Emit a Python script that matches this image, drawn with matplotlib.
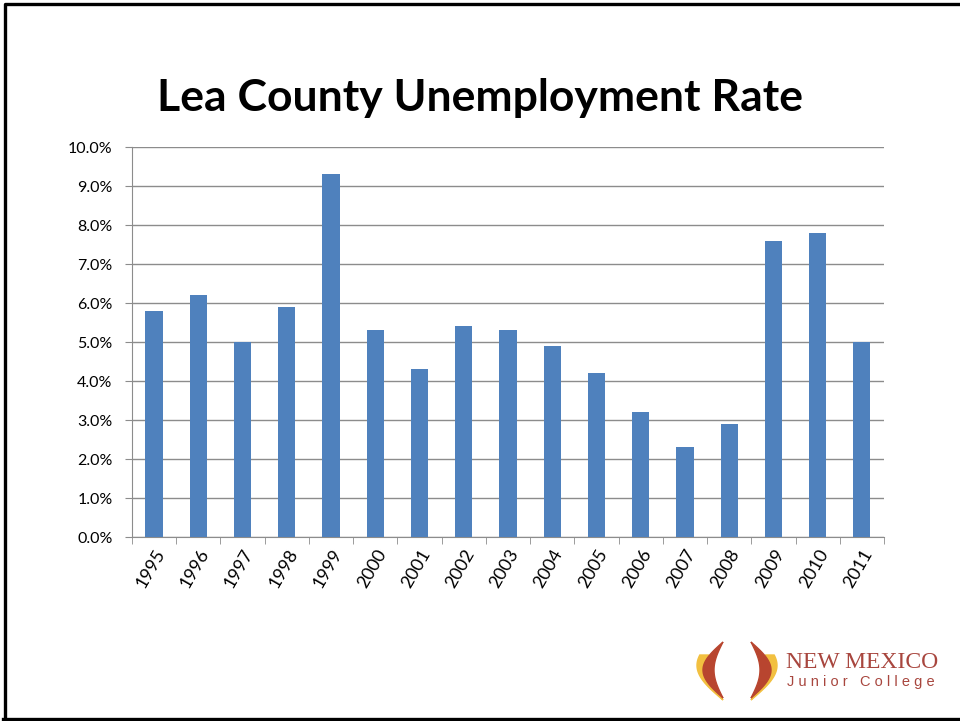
import numpy as np
import matplotlib.pyplot as plt
from matplotlib.lines import Line2D
from matplotlib.patches import Polygon

years = ["1995", "1996", "1997", "1998", "1999", "2000", "2001", "2002", "2003",
         "2004", "2005", "2006", "2007", "2008", "2009", "2010", "2011"]
rates = [5.8, 6.2, 5.0, 5.9, 9.3, 5.3, 4.3, 5.4, 5.3,
         4.9, 4.2, 3.2, 2.3, 2.9, 7.6, 7.8, 5.0]
yticks = [0, 1, 2, 3, 4, 5, 6, 7, 8, 9, 10]

plt.rcParams['font.family'] = ['Lato', 'DejaVu Sans']

fig = plt.figure(figsize=(9.6, 7.21), dpi=100)

# overlay axes in pixel coordinates for the slide frame and the logo
lax = fig.add_axes([0, 0, 1, 1])
lax.set_xlim(0, 960)
lax.set_ylim(721, 0)
lax.axis("off")

# slide frame (left, top, bottom)
lax.add_line(Line2D([4.5, 4.5, 960], [718.5, 4, 4], color="black", lw=2.4))
lax.add_line(Line2D([3, 960], [718.5, 718.5], color="black", lw=2.4))

fig.text(0.5, 0.864, "Lea County Unemployment Rate", ha="center", va="center",
         fontsize=32, fontweight="bold")

ax = fig.add_axes([0.1375, 0.2552, 0.7833, 0.5409])
x = np.arange(len(years))
ax.bar(x, rates, width=0.39, color="#4F81BD", zorder=3)

ax.set_xlim(-0.5, len(years) - 0.5)
ax.set_ylim(0, 10)
ax.set_yticks(yticks)
ax.set_yticklabels([f"{v:.1f}%" for v in yticks], fontsize=11.5)
ax.yaxis.grid(True, color="#8C8C8C", linewidth=1, zorder=0)

ax.set_xticks(x)
ax.set_xticklabels(years, rotation=60, fontsize=13, ha="right", rotation_mode="anchor")
ax.set_xticks(np.arange(-0.5, len(years)), minor=True)
ax.tick_params(axis="x", which="major", length=0, pad=7)
ax.tick_params(axis="x", which="minor", length=5, color="#8C8C8C")
ax.tick_params(axis="y", length=5, color="#8C8C8C", pad=9)

for s in ["top", "right"]:
    ax.spines[s].set_visible(False)
ax.spines["left"].set_color("#8C8C8C")
ax.spines["bottom"].set_color("#8C8C8C")

# college logo (two flame crescents + name)
t = np.linspace(0, 1, 40)
cx = 737
for side in (-1, 1):
    s_y = np.sin(np.pi * (0.35 + 0.65 * t))
    yel_out = [(cx + side * (14 + 26 * a), 655 + 45 * v) for a, v in zip(s_y, t)]
    yel_in = [(cx + side * (14 + 16 * a), 655 + 45 * v) for a, v in zip(s_y[::-1], t[::-1])]
    lax.add_patch(Polygon(yel_out + yel_in, closed=True, color="#F2C040"))
    s_r = np.sin(np.pi * t)
    red_out = [(cx + side * (14 + 20 * a), 642 + 56 * v) for a, v in zip(s_r, t)]
    red_in = [(cx + side * (14 + 9 * a), 642 + 56 * v) for a, v in zip(s_r[::-1], t[::-1])]
    lax.add_patch(Polygon(red_out + red_in, closed=True, color="#B8452F"))

lax.text(786, 668, "NEW MEXICO", fontsize=17, family=["Liberation Serif"],
         color="#A8463E", va="baseline")
lax.text(787, 686, "J u n i o r   C o l l e g e", fontsize=10.5, family=["Liberation Sans"],
         color="#A8463E", va="baseline")

plt.savefig("out.png", dpi=100)
